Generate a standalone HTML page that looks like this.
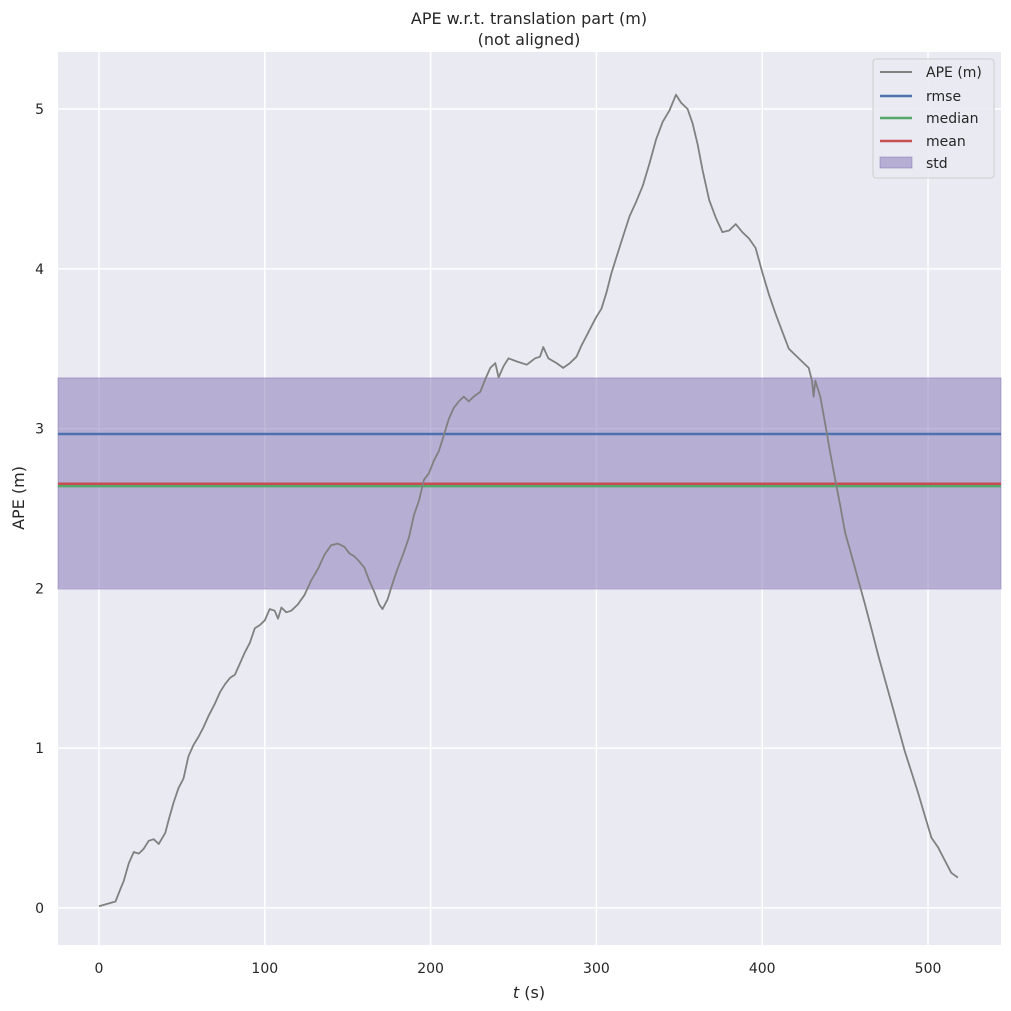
<!DOCTYPE html>
<html><head><meta charset="utf-8"><style>
body{margin:0;background:#fff;}
svg{display:block;font-family:"DejaVu Sans","Liberation Sans",sans-serif;}
</style></head><body>
<svg id="chart" width="1011" height="1011" viewBox="0 0 1011 1011" xmlns="http://www.w3.org/2000/svg">
<rect width="1011" height="1011" fill="#fff"/>
<rect x="58" y="52" width="943" height="893" fill="#eaeaf2"/>
<g id="grid"></g>
<g id="marks"></g>
<g id="ticks" font-size="14" fill="#262626"></g>
<text x="529" y="24" text-anchor="middle" font-size="16" fill="#262626">APE w.r.t. translation part (m)</text>
<text x="529" y="45" text-anchor="middle" font-size="16" fill="#262626">(not aligned)</text>
<text x="529" y="998" text-anchor="middle" font-size="16" fill="#262626"><tspan font-style="italic">t</tspan> (s)</text>
<text transform="translate(24,498) rotate(-90)" text-anchor="middle" font-size="16" fill="#262626">APE (m)</text>
<g>
<rect x="873" y="59" width="121" height="119" rx="3" fill="#eaeaf2" stroke="#cccccc" opacity="0.9"/>
<g><line x1="880" y1="72" x2="912" y2="72" stroke="#808080" stroke-width="2"/><text x="926" y="77" font-size="14" fill="#262626">APE (m)</text></g>
<g><line x1="880" y1="96" x2="912" y2="96" stroke="#4c72b0" stroke-width="2.5"/><text x="926" y="101" font-size="14" fill="#262626">rmse</text></g>
<g><line x1="880" y1="118" x2="912" y2="118" stroke="#55a868" stroke-width="2.5"/><text x="926" y="123" font-size="14" fill="#262626">median</text></g>
<g><line x1="880" y1="141" x2="912" y2="141" stroke="#c44e52" stroke-width="2.5"/><text x="926" y="146" font-size="14" fill="#262626">mean</text></g>
<g><rect x="880" y="157" width="32" height="11" fill="#8172b3" fill-opacity="0.5" stroke="#8172b3" stroke-opacity="0.5"/><text x="926" y="168" font-size="14" fill="#262626">std</text></g>
</g>
</svg>
<script>
const xTicks=[0,100,200,300,400,500];
const yTicks=[0,1,2,3,4,5];
const times=[0,10,13,15,18,21,24,27,30,33,36,40,42,45,48,51,54,57,60,63,66,70,73,76,79,82,85,88,91,94,97,100,103,106,108,110,113,116,120,124,128,132,136,140,144,148,151,154,156,160,163,166,169,171,174,177,180,184,187,190,193,196,199,202,205,208,211,214,217,220,223,226,230,233,236,239,241,244,247,252,258,263,266,268,271,276,280,284,288,291,294,297,300,303,306,309,312,316,320,324,328,332,336,340,344,348,351,355,358,361,364,368,372,376,380,384,388,392,396,400,404,408,412,416,420,424,428,430,431,432,435,438,441,444,447,450,454,458,462,466,470,474,478,482,486,490,494,498,502,506,510,514,518];
const apeValues=[0.01,0.04,0.12,0.17,0.28,0.35,0.34,0.37,0.42,0.43,0.40,0.47,0.55,0.66,0.75,0.81,0.95,1.02,1.07,1.13,1.2,1.28,1.35,1.40,1.44,1.46,1.53,1.60,1.66,1.75,1.77,1.80,1.87,1.86,1.81,1.88,1.85,1.86,1.90,1.96,2.05,2.12,2.21,2.27,2.28,2.26,2.22,2.20,2.18,2.13,2.05,1.98,1.90,1.87,1.93,2.03,2.12,2.23,2.32,2.46,2.55,2.68,2.72,2.80,2.86,2.96,3.06,3.13,3.17,3.20,3.17,3.20,3.23,3.31,3.38,3.41,3.32,3.39,3.44,3.42,3.40,3.44,3.45,3.51,3.44,3.41,3.38,3.41,3.45,3.52,3.58,3.64,3.70,3.75,3.85,3.97,4.07,4.20,4.33,4.42,4.52,4.66,4.81,4.92,4.99,5.09,5.04,5.0,4.91,4.78,4.62,4.43,4.32,4.23,4.24,4.28,4.23,4.19,4.13,3.98,3.84,3.72,3.61,3.50,3.46,3.42,3.38,3.30,3.20,3.30,3.20,3.03,2.85,2.68,2.52,2.35,2.20,2.05,1.90,1.74,1.58,1.43,1.28,1.13,0.98,0.85,0.72,0.58,0.44,0.38,0.30,0.22,0.19];
const rmse=[2.966];
const median=[2.64];
const mean=[2.655];
const stdBand=[1.996,3.317];
const NS="http://www.w3.org/2000/svg";
const X0=58,X1=1001,Y0=52,Y1=945;
const xMin=-24.7,xMax=544,yMin=-0.232,yMax=5.357;
const xs=t=>X0+(t-xMin)/(xMax-xMin)*(X1-X0);
const ys=v=>Y1-(v-yMin)/(yMax-yMin)*(Y1-Y0);
function mk(tag,attrs,parent){const e=document.createElementNS(NS,tag);for(const k in attrs)e.setAttribute(k,attrs[k]);parent.appendChild(e);return e;}
const grid=document.getElementById('grid'),marks=document.getElementById('marks'),ticks=document.getElementById('ticks');
xTicks.forEach(t=>{
 const l=mk('line',{x1:xs(t),x2:xs(t),y1:Y0,y2:Y1,stroke:'#fff','stroke-width':1.5},grid);
 
 
 const tx=mk('text',{x:xs(t),y:973,'text-anchor':'middle'},ticks);tx.textContent=t;
 
 
});
yTicks.forEach(v=>{
 const l=mk('line',{x1:X0,x2:X1,y1:ys(v),y2:ys(v),stroke:'#fff','stroke-width':1.5},grid);
 
 
 const tx=mk('text',{x:44,y:ys(v)+5,'text-anchor':'end'},ticks);tx.textContent=v;
 
 
});
const band=mk('rect',{x:X0,width:X1-X0,y:ys(stdBand[1]),height:ys(stdBand[0])-ys(stdBand[1]),fill:'#8172b3','fill-opacity':0.5,stroke:'#8172b3','stroke-opacity':0.5},marks);


[[rmse,'#4c72b0','rmse-line'],[median,'#55a868','median-line'],[mean,'#c44e52','mean-line']].forEach(([a,c,n])=>{
 const l=mk('line',{x1:X0,x2:X1,y1:ys(a[0]),y2:ys(a[0]),stroke:c,'stroke-width':2.5},marks);
 
 
});
const d=times.map((t,i)=>(i?'L':'M')+xs(t).toFixed(1)+','+ys(apeValues[i]).toFixed(1)).join('');
const p=mk('path',{d:d,fill:'none',stroke:'#808080','stroke-width':1.8,'stroke-linejoin':'round'},marks);


</script>
</body></html>
